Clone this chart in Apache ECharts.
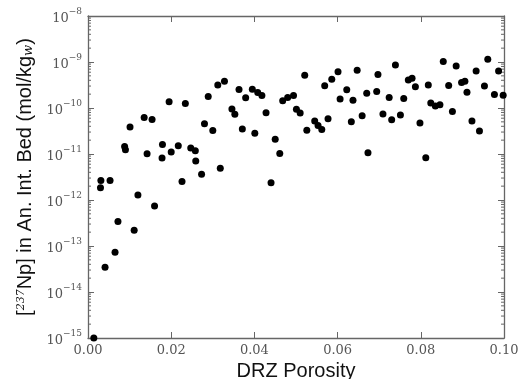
<!DOCTYPE html>
<html>
<head>
<meta charset="utf-8">
<script src="https://cdn.jsdelivr.net/npm/echarts@6/dist/echarts.min.js"></script>
<style>html,body{margin:0;padding:0;background:#fff;}#c{width:518px;height:379px;}</style>
</head>
<body>
<div id="c"></div>
<script>
const porosity = [0.0014,0.0030,0.0031,0.0053,0.0041,0.0065,0.0072,0.0088,0.0090,0.0101,
0.0111,0.0120,0.0135,0.0154,0.0142,0.0160,0.0179,0.0178,0.0195,0.0200,
0.0217,0.0226,0.0234,0.0247,0.0258,0.0259,0.0273,0.0280,0.0289,0.0300,
0.0312,0.0318,0.0328,0.0346,0.0353,0.0363,0.0371,0.0379,0.0395,0.0401,
0.0408,0.0418,0.0428,0.0440,0.0450,0.0461,0.0468,0.0480,0.0494,0.0501,
0.0510,0.0521,0.0526,0.0545,0.0553,0.0562,0.0569,0.0577,0.0586,0.0601,
0.0606,0.0622,0.0633,0.0637,0.0647,0.0659,0.0670,0.0673,0.0694,0.0697,
0.0709,0.0724,0.0730,0.0739,0.0751,0.0759,0.0770,0.0779,0.0787,0.0798,
0.0812,0.0818,0.0824,0.0835,0.0846,0.0854,0.0867,0.0876,0.0885,0.0898,
0.0906,0.0911,0.0923,0.0933,0.0941,0.0953,0.0961,0.0977,0.0987,0.0998];
const npConc = [1.0e-15,1.85e-12,2.65e-12,2.65e-12,3.47e-14,7.28e-14,3.39e-13,1.45e-11,1.24e-11,3.85e-11,
2.21e-13,1.29e-12,6.25e-11,5.65e-11,1.01e-11,7.43e-13,1.60e-11,8.18e-12,1.36e-10,1.11e-11,
1.51e-11,2.53e-12,1.26e-10,1.35e-11,1.18e-11,7.03e-12,3.64e-12,4.54e-11,1.77e-10,3.23e-11,
3.17e-10,4.91e-12,3.83e-10,9.55e-11,7.29e-11,2.53e-10,3.48e-11,1.68e-10,2.55e-10,2.81e-11,
2.18e-10,1.87e-10,7.85e-11,2.37e-12,2.08e-11,1.02e-11,1.43e-10,1.70e-10,1.86e-10,9.35e-11,
7.74e-11,5.16e-10,3.27e-11,5.19e-11,4.19e-11,3.43e-11,3.03e-10,5.82e-11,4.24e-10,6.10e-10,
1.56e-10,2.48e-10,5.01e-11,1.48e-10,6.64e-10,6.76e-11,2.10e-10,1.07e-11,2.29e-10,5.35e-10,
7.36e-11,1.70e-10,5.55e-11,8.65e-10,7.01e-11,1.61e-10,4.08e-10,4.45e-10,2.88e-10,4.70e-11,
8.30e-12,3.18e-10,1.29e-10,1.11e-10,1.17e-10,1.03e-9,3.09e-10,8.43e-11,8.22e-10,3.59e-10,
3.83e-10,2.21e-10,5.19e-11,6.41e-10,3.15e-11,2.99e-10,1.15e-9,1.97e-10,6.41e-10,1.90e-10];
const xTickLabels = ['0.00','0.02','0.04','0.06','0.08','0.10'];
const yDecadeExponents = [-15,-14,-13,-12,-11,-10,-9,-8];
const minorMantissas = [2,3,4,5,6,7,8,9];

const xMin = 0, xMax = 0.1, yMin = 1e-15, yMax = 1e-8;
const axisColor = '#666';
const labelColor = '#555';

const minorVals = [];
for (let i = 0; i < yDecadeExponents.length - 1; i++) {
  for (const m of minorMantissas) minorVals.push(m * Math.pow(10, yDecadeExponents[i]));
}

const chart = echarts.init(document.getElementById('c'), null, {renderer: 'canvas'});
const serif = "'DejaVu Serif', 'Liberation Serif', serif";
const sans = "'Liberation Sans', Arial, sans-serif";

const yRich = {
  b: {fontSize: 13, fontFamily: serif, color: labelColor, verticalAlign: 'bottom', lineHeight: 18},
  s: {fontSize: 9, fontFamily: serif, color: labelColor, verticalAlign: 'top', lineHeight: 10}
};
function yFmt(v) {
  const e = Math.round(Math.log10(v));
  return '{b|10}{s|' + (e < 0 ? '\u2212' + (-e) : e) + '}';
}

chart.setOption({
  animation: false,
  grid: {left: 88, right: 14, top: 16, bottom: 41, outerBoundsMode: 'none', containLabel: false},
  xAxis: [{
    type: 'value', min: xMin, max: xMax, interval: 0.02, position: 'bottom',
    axisLine: {show: true, onZero: false, lineStyle: {color: axisColor, width: 1.3}},
    axisTick: {show: true, inside: true, length: 6, lineStyle: {color: axisColor}},
    axisLabel: {color: labelColor, fontFamily: serif, fontSize: 13, margin: 6,
      formatter: (v) => xTickLabels[Math.round(v / 0.02)]},
    splitLine: {show: false},
    name: 'DRZ Porosity', nameLocation: 'middle', nameGap: 21,
    nameTextStyle: {fontFamily: sans, fontSize: 20, color: '#111'}
  }, {
    type: 'value', min: xMin, max: xMax, interval: 0.02, position: 'top',
    axisLine: {show: true, onZero: false, lineStyle: {color: axisColor, width: 1.3}},
    axisTick: {show: true, inside: true, length: 6, lineStyle: {color: axisColor}},
    axisLabel: {show: false}, splitLine: {show: false}
  }],
  yAxis: [{
    type: 'log', logBase: 10, min: yMin, max: yMax, interval: 1, position: 'left',
    axisLine: {show: true, onZero: false, lineStyle: {color: axisColor, width: 1.3}},
    axisTick: {show: true, inside: true, length: 6, lineStyle: {color: axisColor}},
    axisLabel: {formatter: yFmt, rich: yRich, margin: 6},
    splitLine: {show: false},
    name: '[{sup|237}Np] in An. Int. Bed (mol/kg{sub|w})', nameLocation: 'middle', nameGap: 45,
    nameTextStyle: {fontFamily: sans, fontSize: 20, color: '#111',
      rich: {
        sup: {fontFamily: serif, fontStyle: 'italic', fontSize: 11, verticalAlign: 'top', lineHeight: 12, color: '#111'},
        sub: {fontFamily: serif, fontStyle: 'italic', fontSize: 13, verticalAlign: 'bottom', lineHeight: 10, color: '#111'}
      }}
  }, {
    type: 'log', logBase: 10, min: yMin, max: yMax, interval: 1, position: 'right',
    axisLine: {show: true, onZero: false, lineStyle: {color: axisColor, width: 1.3}},
    axisTick: {show: true, inside: true, length: 6, lineStyle: {color: axisColor}},
    axisLabel: {show: false}, splitLine: {show: false}
  }],
  series: [{
    type: 'custom', xAxisIndex: 0, yAxisIndex: 0, silent: true, clip: false,
    data: minorVals.map(v => [xMin, v]),
    renderItem: function (params, api) {
      const v = api.value(1);
      const l = api.coord([xMin, v]);
      const r = api.coord([xMax, v]);
      const st = {stroke: axisColor, lineWidth: 1};
      return {type: 'group', children: [
        {type: 'line', shape: {x1: l[0], y1: l[1], x2: l[0] + 3, y2: l[1]}, style: st},
        {type: 'line', shape: {x1: r[0], y1: r[1], x2: r[0] - 3, y2: r[1]}, style: st}
      ]};
    },
    z: 1
  }, {
    type: 'scatter', xAxisIndex: 0, yAxisIndex: 0,
    data: porosity.map((x, i) => [x, npConc[i]]),
    symbol: 'circle', symbolSize: 7,
    itemStyle: {color: '#000', opacity: 1},
    z: 3
  }]
});
</script>
</body>
</html>
